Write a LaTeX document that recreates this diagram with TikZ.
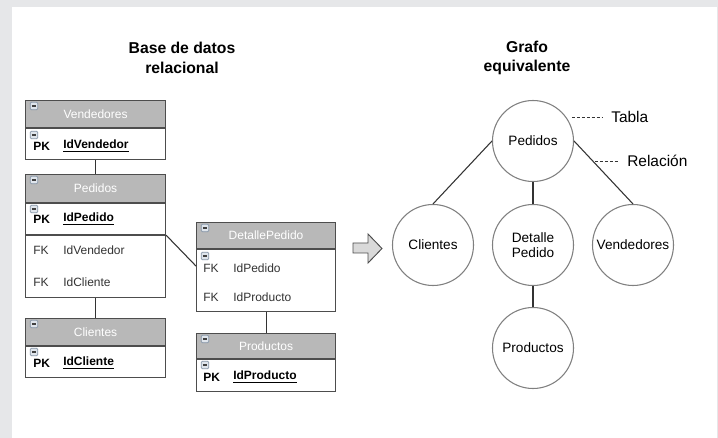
\documentclass[tikz,border=0pt]{standalone}
\usepackage{fontspec}
\setmainfont{Liberation Sans}
\usetikzlibrary{positioning}

\definecolor{framegray}{HTML}{E6E7E9}
\definecolor{headgray}{HTML}{B8B8B8}
\definecolor{tblline}{HTML}{4D4D4D}
\definecolor{circline}{HTML}{7F7F7F}
\definecolor{txtdark}{HTML}{333333}
\definecolor{iconfill}{HTML}{DFE5EC}
\definecolor{iconline}{HTML}{8696A8}
\definecolor{arrowfill}{HTML}{D9D9D9}

\newcommand{\px}{0.75pt}

\tikzset{
  tblhead/.style={draw=tblline, fill=headgray, text=white, line width=0.8pt,
    minimum width=140*\px, minimum height=27*\px, inner sep=0pt, anchor=north west,
    font=\fontsize{9}{11}\selectfont},
  tblbody/.style={draw=tblline, fill=white, line width=0.8pt,
    minimum width=140*\px, inner sep=0pt, anchor=north west},
  keytxt/.style={anchor=west, inner sep=0pt, text=black, font=\fontsize{9}{11}\selectfont\bfseries},
  fktxt/.style={anchor=west, inner sep=0pt, text=txtdark, font=\fontsize{9}{11}\selectfont},
  minibox/.style={draw=iconline, fill=iconfill, line width=0.5pt, rounded corners=0.8pt,
    minimum width=7.5*\px, minimum height=7.5*\px, inner sep=0pt,
    path picture={\draw[black!75, line width=0.9pt]
      ([xshift=1.2pt]path picture bounding box.west) -- ([xshift=-1.2pt]path picture bounding box.east);}},
  gnode/.style={circle, draw=circline, line width=0.8pt, minimum size=81*\px,
    inner sep=0pt, align=center, font=\fontsize{10.2}{12}\selectfont},
  link/.style={draw=txtdark, line width=0.8pt},
  annot/.style={draw=txtdark, line width=0.7pt, dash pattern=on 2.2pt off 1.5pt},
  title/.style={align=center, font=\fontsize{11.8}{14.5}\selectfont\bfseries}
}

\begin{document}
\begin{tikzpicture}[x=0.75pt, y=-0.75pt]
    % Frame
    \fill[framegray] (0,0) rectangle (718,438);
    \fill[white] (12,7) rectangle (716.5,438);
    \useasboundingbox (0,0) rectangle (718,438);

    % Titles
    \node[title] (tRel) at (182,58) {Base de datos\\relacional};
    \node[title] (tGraf) at (527,58) {Grafo\\equivalente};

    % Table Vendedores
    \node[tblhead] (venH) at (25,100) {Vendedores};
    \node[tblbody, minimum height=31*\px] (venB) at (venH.south west) {};
    \node[keytxt] (venK) at (33,146) {PK};
    \node[keytxt] (venF) at (63,146) {\underline{IdVendedor}};

    % Table Pedidos
    \node[tblhead, minimum height=28*\px] (pedH) at (25,174) {Pedidos};
    \node[tblbody, minimum height=31*\px] (pedB) at (pedH.south west) {};
    \node[tblbody, minimum height=62*\px] (pedF) at (pedB.south west) {};
    \node[keytxt] (pedK) at (33,219) {PK};
    \node[keytxt] (pedI) at (63,219) {\underline{IdPedido}};
    \node[fktxt] (pedK1) at (33,250) {FK};
    \node[fktxt] (pedF1) at (63,250) {IdVendedor};
    \node[fktxt] (pedK2) at (33,282) {FK};
    \node[fktxt] (pedF2) at (63,282) {IdCliente};

    % Table Clientes
    \node[tblhead] (cliH) at (25,318) {Clientes};
    \node[tblbody, minimum height=31*\px] (cliB) at (cliH.south west) {};
    \node[keytxt] (cliK) at (33,363) {PK};
    \node[keytxt] (cliF) at (63,363) {\underline{IdCliente}};

    % Table DetallePedido
    \node[tblhead, minimum width=139*\px, minimum height=26*\px] (detH) at (196,222) {DetallePedido};
    \node[tblbody, minimum width=139*\px, minimum height=62*\px] (detB) at (detH.south west) {};
    \node[fktxt] (detK1) at (203,268) {FK};
    \node[fktxt] (detF1) at (233,268) {IdPedido};
    \node[fktxt] (detK2) at (203,297) {FK};
    \node[fktxt] (detF2) at (233,297) {IdProducto};

    % Table Productos
    \node[tblhead, minimum width=139*\px, minimum height=25*\px] (proH) at (196,333) {Productos};
    \node[tblbody, minimum width=139*\px, minimum height=32*\px] (proB) at (proH.south west) {};
    \node[keytxt] (proK) at (203,377) {PK};
    \node[keytxt] (proF) at (233,377) {\underline{IdProducto}};

    % Collapse icons
    \foreach \hx/\hy in {34/106, 34/180, 34/324, 205/228, 205/339}
      \node[minibox] at (\hx,\hy) {};
    \foreach \rx/\ry in {34/135, 34/209, 34/352, 205/256, 205/365}
      \node[minibox] at (\rx,\ry) {};

    % Table links
    \draw[link] (venB) -- (pedH);
    \draw[link] (pedF) -- (cliH);
    \draw[link] (pedB.south east) -- ([yshift=-17*\px]detB.north west);
    \draw[link] (detB) -- (proH);

    % Block arrow
    \draw[draw=tblline, fill=arrowfill, line width=0.7pt]
      (353,243) -- (368,243) -- (368,234) -- (382,248.5) -- (368,263)
      -- (368,253) -- (353,253) -- cycle;

    % Graph
    \node[gnode] (gPed) at (533,141) {Pedidos};
    \node[gnode] (gCli) at (433,245) {Clientes};
    \node[gnode] (gDet) at (533,245) {Detalle\\[-1pt]Pedido};
    \node[gnode] (gVen) at (633,245) {Vendedores};
    \node[gnode] (gPro) at (533,348) {Productos};

    \draw[link] (gPed.west) -- (gCli.north);
    \draw[link] (gPed.east) -- (gVen.north);
    \draw[link] (gPed) -- (gDet);
    \draw[link] (gDet) -- (gPro);

    % Legend
    \node[anchor=west, inner sep=0pt, font=\fontsize{11.6}{14}\selectfont] (lTab) at (611,117) {Tabla};
    \node[anchor=west, inner sep=0pt, font=\fontsize{11.6}{14}\selectfont] (lRel) at (627,161) {Relación};
    \coordinate (pTab) at (572,117);
    \coordinate (pRel) at (595,161);
    \draw[annot] (pTab) -- ([xshift=-8*\px]lTab.west);
    \draw[annot] (pRel) -- ([xshift=-8*\px]lRel.west);
\end{tikzpicture}
\end{document}
